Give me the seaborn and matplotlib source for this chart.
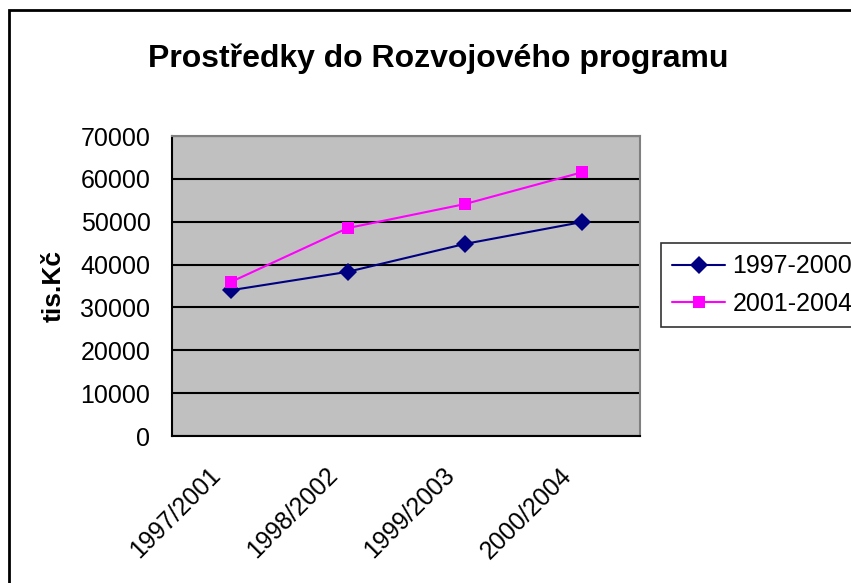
import matplotlib
matplotlib.use("Agg")
import matplotlib.pyplot as plt
import matplotlib.transforms as mtransforms
from matplotlib.patches import Rectangle
from matplotlib.ticker import MultipleLocator
import seaborn as sns
import pandas as pd

# data
categories = ["1997/2001", "1998/2002", "1999/2003", "2000/2004"]
series_names = ["1997-2000", "2001-2004"]
values_1997_2000 = [34000, 38300, 44800, 49900]
values_2001_2004 = [35900, 48500, 54100, 61500]

df = pd.DataFrame({
    "pos": list(range(len(categories))) * 2,
    "value": values_1997_2000 + values_2001_2004,
    "series": [series_names[0]] * 4 + [series_names[1]] * 4,
})

sns.set_style("white")
plt.rcParams["font.family"] = ["Liberation Sans", "DejaVu Sans"]
plt.rcParams["text.color"] = "black"
plt.rcParams["axes.labelcolor"] = "black"
plt.rcParams["xtick.color"] = "black"
plt.rcParams["ytick.color"] = "black"

fig = plt.figure(figsize=(8.51, 5.83), dpi=100)
ax = fig.add_axes([172 / 851, 1 - 436 / 583, (640 - 172) / 851, 300 / 583])
ax.set_facecolor("#C0C0C0")

sns.lineplot(data=df, x="pos", y="value", hue="series", style="series",
             palette=["#000080", "#FF00FF"], markers=["D", "s"], dashes=False,
             markersize=9, linewidth=1.5, markeredgewidth=0, ax=ax, legend=True)

ax.set_xlim(-0.5, len(categories) - 0.5)
ax.set_ylim(0, 70000)
ax.yaxis.set_major_locator(MultipleLocator(10000))
ax.grid(axis="y", color="black", linewidth=1.5)
ax.set_axisbelow(True)

# tick marks on the category boundaries, labels drawn as rotated texts
ax.set_xticks([i - 0.5 for i in range(len(categories) + 1)])
ax.set_xticklabels([])
ax.tick_params(axis="x", length=6, width=1.5, direction="out")
ax.tick_params(axis="y", length=6, width=1.5, direction="out", labelsize=18, pad=9.5)

shift = mtransforms.ScaledTranslation(-22 / 100, -27 / 100, fig.dpi_scale_trans)
for i, cat in enumerate(categories):
    ax.text(i, 0, cat, transform=ax.get_xaxis_transform() + shift,
            rotation=45, ha="right", va="top", rotation_mode="anchor", fontsize=17.8)

for s in ["left", "bottom"]:
    ax.spines[s].set_color("black")
    ax.spines[s].set_linewidth(1.5)
for s in ["top", "right"]:
    ax.spines[s].set_color("#808080")
    ax.spines[s].set_linewidth(1.5)

ax.set_xlabel("")
ax.set_ylabel("tis.Kč", fontsize=19, fontweight="bold")
ax.yaxis.set_label_coords(-(172 - 66) / 468, 0.5)
ax.set_title("Prostředky do Rozvojového programu", fontsize=23, fontweight="bold",
             pad=49.5, x=(438 - 172) / 468)

handles, labels = ax.get_legend_handles_labels()
ax.get_legend().remove()
leg = fig.legend(handles, labels, loc="upper left",
                 bbox_to_anchor=(661 / 851, 1 - 243 / 583), borderaxespad=0, fontsize=18,
                 frameon=True, fancybox=False, edgecolor="black",
                 handlelength=2.1, borderpad=0.45, labelspacing=0.55, handletextpad=0.3)
leg.get_frame().set_linewidth(1.2)

# outer chart border (clipped on the right and bottom)
fig.add_artist(Rectangle((9 / 851, -0.5), 1.5, 1.5 - 10 / 583, transform=fig.transFigure,
                         fill=False, edgecolor="black", linewidth=2, clip_on=False))

fig.savefig("out.png", dpi=100)
